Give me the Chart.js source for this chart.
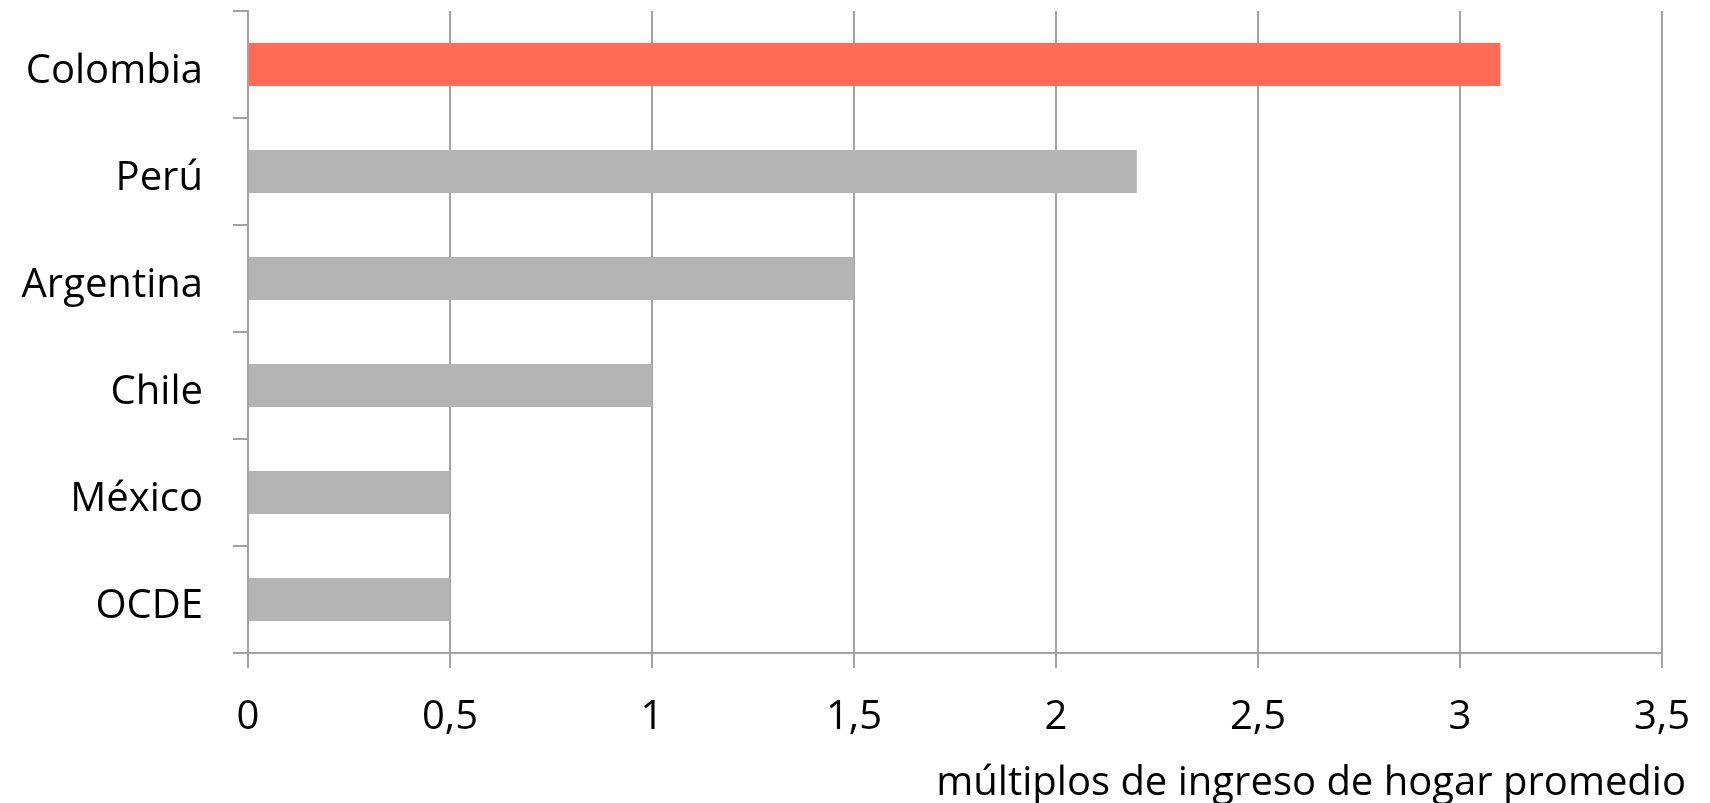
<!DOCTYPE html>
<html>
<head>
<meta charset="utf-8">
<script src="https://cdn.jsdelivr.net/npm/chart.js@4/dist/chart.umd.min.js"></script>
<style>
  html, body { margin: 0; padding: 0; background: #ffffff; }
  #wrap { width: 1710px; height: 803px; }
</style>
</head>
<body>
<div id="wrap"><canvas id="chart"></canvas></div>
<script>
const countries = ['Colombia', 'Perú', 'Argentina', 'Chile', 'México', 'OCDE'];
const values = [3.1, 2.2, 1.5, 1.0, 0.5, 0.5];
const barColors = ['#ff6b55', '#b4b4b4', '#b4b4b4', '#b4b4b4', '#b4b4b4', '#b4b4b4'];
const xTickLabels = ['0', '0,5', '1', '1,5', '2', '2,5', '3', '3,5'];
const xTitle = 'múltiplos de ingreso de hogar promedio';

const FONT = "'Open Sans', sans-serif";
const GRID = '#a3a3a3';

// axis title sits right of the plot edge, so draw it by hand
const xTitlePlugin = {
  id: 'xTitle',
  afterDraw(chart) {
    const ctx = chart.ctx;
    const area = chart.chartArea;
    ctx.save();
    ctx.font = `40px ${FONT}`;
    ctx.fillStyle = '#000000';
    ctx.textAlign = 'right';
    ctx.textBaseline = 'alphabetic';
    ctx.fillText(xTitle, area.right + 24, area.bottom + 142);
    ctx.restore();
  }
};

new Chart(document.getElementById('chart'), {
  type: 'bar',
  data: {
    labels: countries,
    datasets: [{
      data: values,
      backgroundColor: barColors,
      borderWidth: 0,
      barPercentage: 0.4,
      categoryPercentage: 1.0
    }]
  },
  options: {
    indexAxis: 'y',
    responsive: true,
    maintainAspectRatio: false,
    animation: false,
    layout: { padding: { top: 11, right: 48, left: 0, bottom: 0 } },
    plugins: {
      legend: { display: false },
      tooltip: { enabled: false }
    },
    scales: {
      x: {
        min: 0,
        max: 3.5,
        z: 1,
        ticks: {
          stepSize: 0.5,
          color: '#000000',
          font: { family: FONT, size: 40 },
          padding: 26,
          maxRotation: 0,
          callback: (v, i) => xTickLabels[i]
        },
        grid: { color: GRID, lineWidth: 2, tickLength: 15, drawTicks: true },
        border: { color: GRID, width: 2 },
        afterFit: s => { s.height = 150; s.paddingLeft = 0; s.paddingRight = 0; }
      },
      y: {
        offset: true,
        ticks: {
          color: '#000000',
          font: { family: FONT, size: 40 },
          padding: 30,
          labelOffset: 7
        },
        grid: { offset: true, drawOnChartArea: false, color: GRID, lineWidth: 2, tickLength: 15 },
        border: { color: GRID, width: 2 },
        afterFit: s => { s.width = 248; s.paddingTop = 0; s.paddingBottom = 0; }
      }
    }
  },
  plugins: [xTitlePlugin]
});
</script>
</body>
</html>
